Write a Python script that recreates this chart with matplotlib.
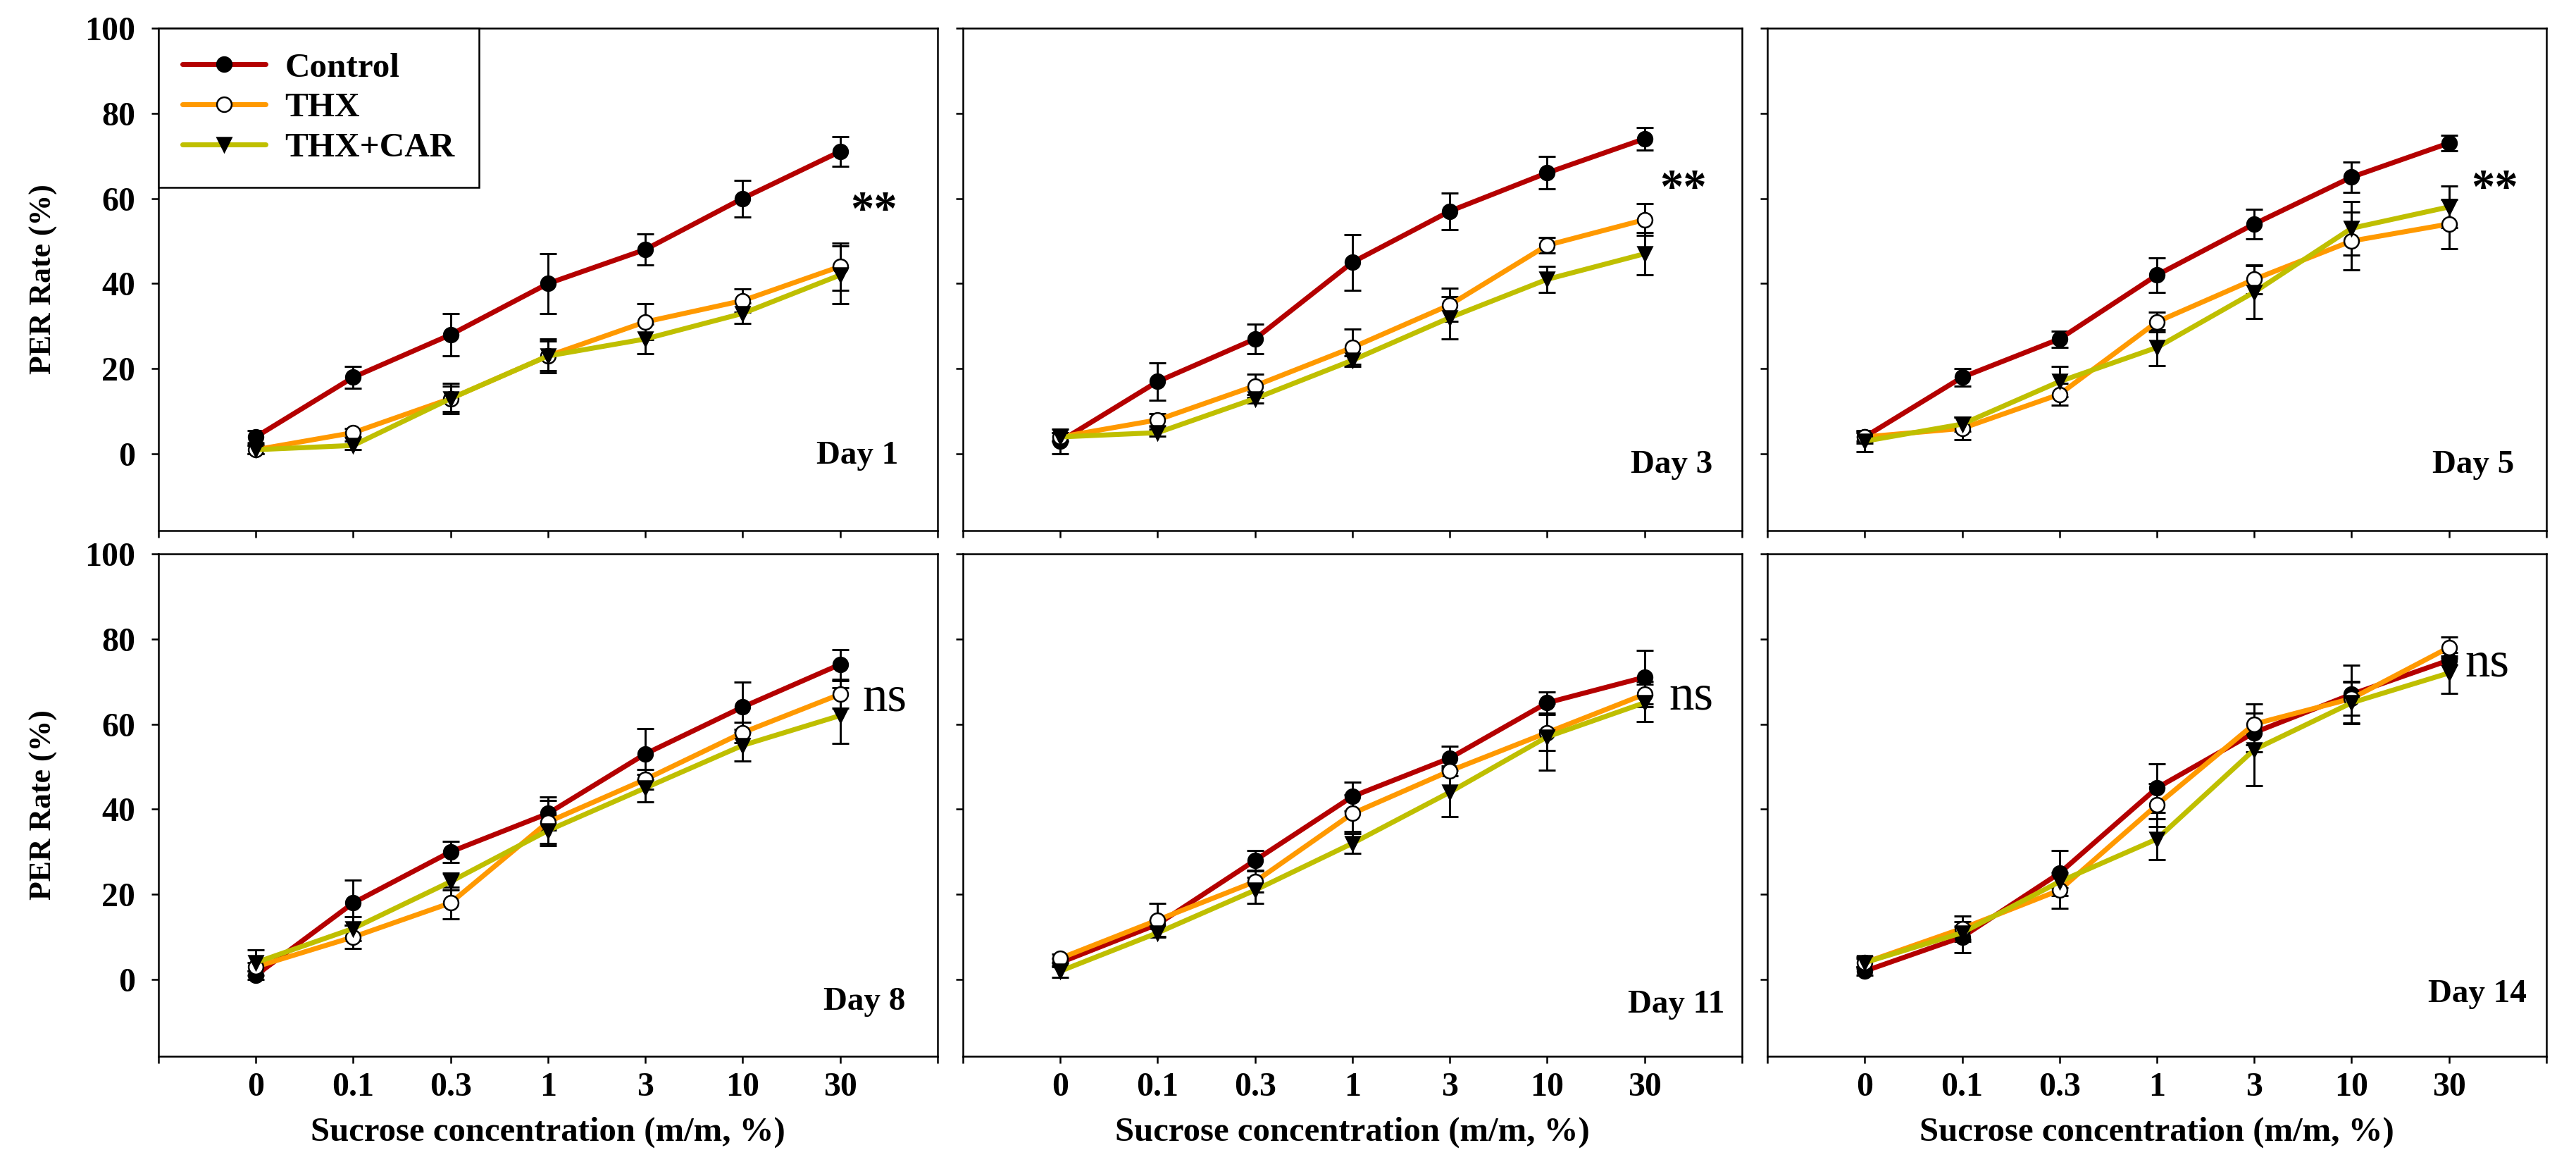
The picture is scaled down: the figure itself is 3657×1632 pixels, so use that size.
import matplotlib
matplotlib.use("Agg")
import matplotlib.pyplot as plt

# sucrose concentrations (m/m, %)
conc_labels = ["0", "0.1", "0.3", "1", "3", "10", "30"]
days = ["Day 1", "Day 3", "Day 5", "Day 8", "Day 11", "Day 14"]
sig_labels = ["**", "**", "**", "ns", "ns", "ns"]

# PER rate (%) per day, mean and error
control_mean = [
    [4, 18, 28, 40, 48, 60, 71],
    [3, 17, 27, 45, 57, 66, 74],
    [4, 18, 27, 42, 54, 65, 73],
    [1, 18, 30, 39, 53, 64, 74],
    [4, 13, 28, 43, 52, 65, 71],
    [2, 10, 25, 45, 58, 67, 75],
]
control_err = [
    [1.5, 2.6, 5, 7, 3.7, 4.3, 3.5],
    [2.9, 4.4, 3.4, 6.5, 4.3, 3.8, 2.6],
    [1.5, 2, 1.9, 4, 3.5, 3.6, 1.9],
    [1, 5.3, 2.5, 3.9, 6, 5.9, 3.5],
    [1, 1, 2.3, 3.4, 2.8, 2.5, 6.3],
    [1, 3.6, 5.3, 5.7, 4.6, 6.9, 1],
]
thx_mean = [
    [1, 5, 13, 23, 31, 36, 44],
    [4, 8, 16, 25, 35, 49, 55],
    [4, 6, 14, 31, 41, 50, 54],
    [3, 10, 18, 37, 47, 58, 67],
    [5, 14, 23, 39, 49, 58, 67],
    [4, 12, 21, 41, 60, 66, 78],
]
thx_err = [
    [1, 1, 3.5, 4, 4.2, 2.7, 5.5],
    [1, 1.5, 2.8, 4.4, 3.9, 1.8, 3.7],
    [1, 2.6, 2.6, 2.3, 3.4, 6.8, 5.8],
    [1, 2.7, 3.7, 5, 2.3, 2.4, 3.2],
    [1, 3.9, 2.5, 4.3, 1.1, 4.2, 3],
    [1.4, 3, 4.2, 5, 4.8, 4, 2.5],
]
car_mean = [
    [1, 2, 13, 23, 27, 33, 42],
    [4, 5, 13, 22, 32, 41, 47],
    [3, 7, 17, 25, 38, 53, 58],
    [4, 12, 23, 35, 45, 55, 62],
    [2, 11, 21, 32, 44, 57, 65],
    [4, 11, 23, 33, 54, 65, 72],
]
car_err = [
    [1, 1, 3, 3.5, 3.4, 2.4, 6.8],
    [1, 0.8, 1, 1, 5, 3, 5],
    [2.4, 1.7, 3.6, 4.2, 6.2, 6.3, 4.9],
    [2.9, 2.8, 2, 3.6, 3.2, 3.7, 6.6],
    [1.4, 1, 3.1, 2.3, 5.7, 7.9, 4.4],
    [1, 1.5, 1.5, 4.8, 8.5, 4.8, 4.8],
]

# text placement inside each panel (data coords)
day_pos = [(6.6, -0.5), (6.7, -2.6), (6.67, -2.6), (6.67, -5.3), (6.82, -6), (6.8, -3.5)]
sig_pos = [(6.35, 56.9), (6.4, 62), (6.47, 62), (6.46, 66), (6.48, 66.4), (6.39, 74.2)]

plt.rcParams["font.family"] = ["Liberation Serif", "DejaVu Serif"]
plt.rcParams["font.weight"] = "bold"

fig = plt.figure(figsize=(3657 / 300, 1632 / 300), dpi=300)

lefts = [0.0615, 0.3738, 0.6861]
bottoms = [0.5386, 0.0815]
w, h = 0.3024, 0.437

series = [
    ("Control", control_mean, control_err, "#b40000", "o", "black"),
    ("THX", thx_mean, thx_err, "#ff9900", "o", "white"),
    ("THX+CAR", car_mean, car_err, "#bfbf00", "v", "black"),
]

x = list(range(len(conc_labels)))

for i, day in enumerate(days):
    row, col = divmod(i, 3)
    ax = fig.add_axes([lefts[col], bottoms[row], w, h])
    for name, means, errs, color, marker, face in series:
        ax.errorbar(x, means[i], yerr=errs[i], fmt="none", ecolor="black",
                    elinewidth=0.7, capsize=2.8, capthick=0.7, zorder=2)
        ax.plot(x, means[i], color=color, lw=1.7, marker=marker, ms=5,
                mfc=face, mec="black", mew=0.6, label=name, zorder=3,
                solid_capstyle="round")

    ax.set_xlim(-1, 7)
    ax.set_ylim(-18, 100)
    ax.set_xticks(range(-1, 8))
    ax.set_yticks([0, 20, 40, 60, 80, 100])
    ax.tick_params(direction="out", length=2.4, width=0.6, labelsize=11.5)
    ax.tick_params(axis="y", pad=5.5)
    ax.tick_params(axis="x", pad=3)
    for sp in ax.spines.values():
        sp.set_linewidth(0.6)

    if row == 1:
        ax.set_xticklabels([""] + conc_labels + [""])
        ax.set_xlabel("Sucrose concentration (m/m, %)", fontsize=11.7,
                      fontweight="bold", labelpad=4.5)
    else:
        ax.set_xticklabels([])
    if col == 0:
        ax.set_ylabel("PER Rate (%)", fontsize=10.5, fontweight="bold", labelpad=9)
    else:
        ax.set_yticklabels([])

    ax.text(day_pos[i][0], day_pos[i][1], day, ha="right", va="center",
            fontsize=11.3, fontweight="bold")
    if sig_labels[i] == "**":
        ax.text(sig_pos[i][0], sig_pos[i][1], "**", ha="center", va="center",
                fontsize=16, fontweight="bold")
    else:
        ax.text(sig_pos[i][0], sig_pos[i][1], "ns", ha="center", va="center",
                fontsize=17, fontweight="normal")

    if i == 0:
        leg = ax.legend(loc="upper left", bbox_to_anchor=(0, 1), borderaxespad=0,
                        fancybox=False, edgecolor="black", framealpha=1,
                        fontsize=11.8, labelspacing=0.25, borderpad=0.7,
                        handlelength=2.4, handletextpad=0.55)
        leg.get_frame().set_linewidth(0.6)

fig.savefig("out.png", dpi=300)
